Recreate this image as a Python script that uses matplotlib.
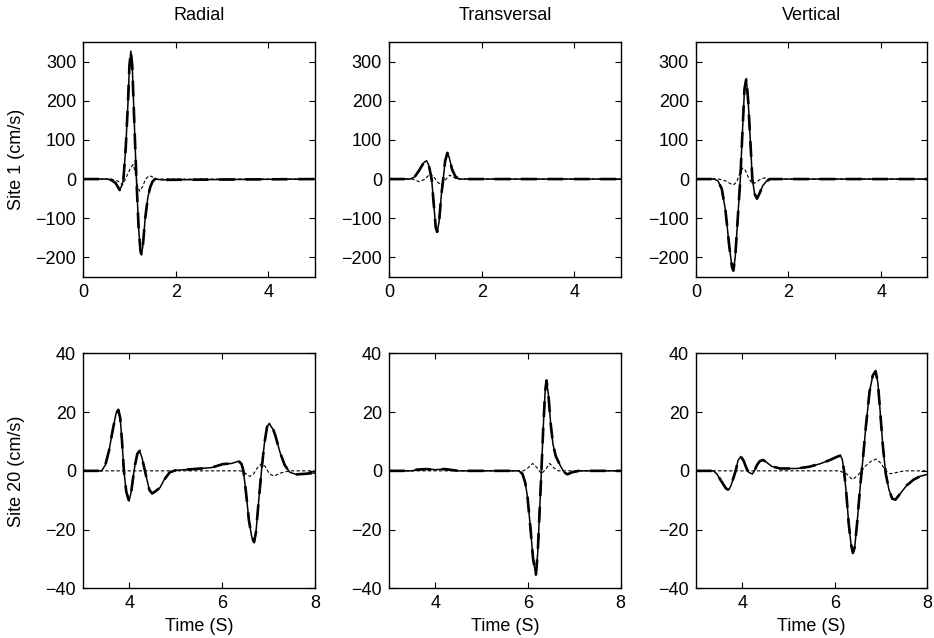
import numpy as np
import matplotlib
matplotlib.use("Agg")
import matplotlib.pyplot as plt

plt.rcParams['font.family'] = ['Liberation Sans', 'DejaVu Sans']
plt.rcParams['font.size'] = 13

COMPONENTS = ["Radial", "Transversal", "Vertical"]
SITES = ["Site 1 (cm/s)", "Site 20 (cm/s)"]

# ---- Site 1 (top row) ----
rad1_t = [0, 0.5, 0.6, 0.7, 0.79, 0.84, 0.87, 0.92, 0.97, 1.00, 1.03, 1.06, 1.10, 1.15,
          1.20, 1.24, 1.26, 1.29, 1.34, 1.40, 1.45, 1.50, 1.55, 1.7, 5.0]
rad1_v = [0, 0, -2, -10, -28, -15, 0, 80, 200, 290, 327, 290, 160, 0,
          -130, -185, -194, -170, -100, -45, -20, -6, 0, -2, 0]
rad1_dt = [0, 0.6, 0.75, 0.85, 0.95, 1.03, 1.08, 1.13, 1.18, 1.22, 1.28, 1.35, 1.43, 1.50, 1.6, 5.0]
rad1_dv = [0, 0, -5, -15, 10, 30, 37, 15, -20, -31, -20, 0, 9, 5, 0, 0]

tra1_t = [0, 0.45, 0.55, 0.65, 0.75, 0.81, 0.86, 0.92, 0.97, 1.01, 1.04, 1.08, 1.13, 1.17,
          1.21, 1.26, 1.30, 1.36, 1.43, 1.51, 5.0]
tra1_v = [0, 0, 5, 22, 42, 47, 35, 0, -70, -125, -135, -110, -40, 0,
          45, 67, 55, 25, 7, 0, 0]
tra1_dt = [0, 0.5, 0.66, 0.78, 0.89, 0.97, 1.05, 1.13, 1.21, 1.31, 1.40, 1.47, 5.0]
tra1_dv = [0, 0, -7, 0, 14, 5, -8, -15, -3, 10, 4, 0, 0]

ver1_t = [0, 0.40, 0.48, 0.56, 0.64, 0.72, 0.78, 0.81, 0.85, 0.90, 0.96, 1.01, 1.05, 1.09,
          1.13, 1.18, 1.22, 1.27, 1.32, 1.37, 1.44, 1.52, 1.6, 5.0]
ver1_v = [0, 0, -5, -25, -80, -170, -225, -234, -200, -110, 0, 130, 230, 257,
          200, 90, 0, -38, -50, -38, -18, -6, 0, 0]
ver1_dt = [0, 0.5, 0.65, 0.75, 0.81, 0.88, 0.95, 1.01, 1.07, 1.15, 1.23, 1.30, 1.40, 1.48, 1.6, 5.0]
ver1_dv = [0, 0, -5, -12, -15, -8, 15, 28, 22, 0, -13, -8, 0, 3, 0, 0]

# ---- Site 20 (bottom row) ----
rad20_t = [3, 3.40, 3.48, 3.56, 3.64, 3.71, 3.76, 3.80, 3.84, 3.88, 3.93, 3.99, 4.04, 4.09,
           4.12, 4.17, 4.22, 4.27, 4.32, 4.37, 4.43, 4.49, 4.56, 4.66, 4.75, 4.87, 5.0,
           5.38, 5.77, 6.02, 6.2, 6.30, 6.36, 6.42, 6.46, 6.52, 6.58, 6.64, 6.69, 6.73,
           6.78, 6.85, 6.91, 6.97, 7.02, 7.06, 7.10, 7.15, 7.25, 7.35, 7.46, 7.6, 7.8, 8.0]
rad20_v = [0, 0, 2, 7, 14, 19.5, 20.8, 18, 10, 0, -7, -10.3, -7, -1,
           2, 5.8, 6.8, 4.5, 1, -2.5, -6.5, -7.7, -7, -5.7, -3, -0.5, 0.2,
           0.6, 1.1, 2.3, 2.5, 3.0, 3.3, 2.3, 0, -8, -17, -22.5, -24.3, -21,
           -12, 0, 9, 15, 16.2, 15, 14.2, 12, 6.3, 2, -0.5, -1.2, -1, -0.7]
rad20_dt = [3, 6.4, 6.5, 6.60, 6.68, 6.76, 6.85, 6.93, 7.02, 7.12, 7.25, 7.45, 8]
rad20_dv = [0, 0, -0.8, -1.9, -1, 1, 2.5, 1.5, -1, -1.8, -0.8, 0, 0]

tra20_t = [3, 3.5, 3.6, 3.8, 4.0, 4.2, 4.35, 4.5, 5.8, 5.88, 5.94, 5.99, 6.05, 6.11, 6.17,
           6.21, 6.25, 6.29, 6.33, 6.37, 6.40, 6.44, 6.49, 6.54, 6.60, 6.69, 6.78, 6.85,
           6.95, 7.1, 8]
tra20_v = [0, 0, 0.4, 0.6, 0.4, 0.6, 0.3, 0, 0, -1, -4, -9, -19, -30, -35.6,
           -28, -14, 0, 15, 27, 30.8, 26, 16, 9, 5, 2, -0.5, -1.2,
           -0.5, 0, 0]
tra20_dt = [3, 5.9, 6.0, 6.1, 6.2, 6.29, 6.38, 6.47, 6.56, 6.65, 8]
tra20_dv = [0, 0, 1, 2.5, 1, -1, 0.5, 2.5, 1, 0, 0]

ver20_t = [3, 3.38, 3.45, 3.55, 3.65, 3.71, 3.76, 3.82, 3.86, 3.91, 3.97, 4.03, 4.09, 4.14,
           4.22, 4.27, 4.32, 4.38, 4.45, 4.52, 4.64, 4.82, 5.18, 5.45, 5.68, 5.88, 6.05,
           6.12, 6.16, 6.20, 6.25, 6.30, 6.35, 6.39, 6.43, 6.48, 6.55, 6.60, 6.67, 6.75,
           6.82, 6.88, 6.93, 6.98, 7.04, 7.10, 7.17, 7.24, 7.31, 7.40, 7.55, 7.7, 7.85, 8.0]
ver20_v = [0, 0, -1, -3.5, -6, -6.5, -5, -2, 0, 3.5, 4.9, 3.5, 1, -0.5,
           -1.1, 0.2, 2, 3.3, 3.7, 3, 1.5, 0.8, 0.8, 1.4, 2.4, 3.6, 4.8,
           5.2, 4, 0, -8, -18, -25, -28, -26, -18, -5, 3, 15, 27,
           32.5, 34, 30, 20, 8, -1, -6.5, -9.5, -9.8, -8, -5, -3, -1.8, -1.2]
ver20_dt = [3, 6.1, 6.25, 6.38, 6.5, 6.65, 6.8, 6.9, 7.0, 7.1, 7.2, 7.35, 7.5, 8]
ver20_dv = [0, 0, -1, -3, -1.5, 1.5, 3.5, 4, 2.5, 0, -1, -0.5, 0, 0]

rows = [
    [(rad1_t, rad1_v, rad1_dt, rad1_dv), (tra1_t, tra1_v, tra1_dt, tra1_dv), (ver1_t, ver1_v, ver1_dt, ver1_dv)],
    [(rad20_t, rad20_v, rad20_dt, rad20_dv), (tra20_t, tra20_v, tra20_dt, tra20_dv), (ver20_t, ver20_v, ver20_dt, ver20_dv)],
]

fig = plt.figure(figsize=(9.34, 6.38), dpi=100)
lefts = [0.089, 0.4165, 0.745]
width = 0.248
bottoms = [0.566, 0.078]
height = 0.368

for r, row in enumerate(rows):
    for c, (t, v, dt, dv) in enumerate(row):
        ax = fig.add_axes([lefts[c], bottoms[r], width, height])
        ax.plot(t, v, color='black', lw=1.1)
        ax.plot(t, v, color='black', lw=1.9, dashes=(6, 4))
        ax.plot(dt, dv, color='black', lw=0.8, dashes=(3, 2))
        if r == 0:
            ax.set_xlim(0, 5)
            ax.set_ylim(-250, 350)
            ax.set_xticks([0, 2, 4])
            ax.set_yticks([-200, -100, 0, 100, 200, 300])
            ax.set_title(COMPONENTS[c], fontsize=13, pad=16)
        else:
            ax.set_xlim(3, 8)
            ax.set_ylim(-40, 40)
            ax.set_xticks([4, 6, 8])
            ax.set_yticks([-40, -20, 0, 20, 40])
            ax.set_xlabel("Time (S)")
            ax.xaxis.set_label_coords(0.5, -0.125)
        if c == 0:
            ax.set_ylabel(SITES[r])
            ax.yaxis.set_label_coords(-0.25, 0.5)
        ax.tick_params(direction='in', top=True, right=True, length=4, labelsize=13, pad=5)
        for s in ax.spines.values():
            s.set_linewidth(1.0)

fig.savefig("out.png", dpi=100)
